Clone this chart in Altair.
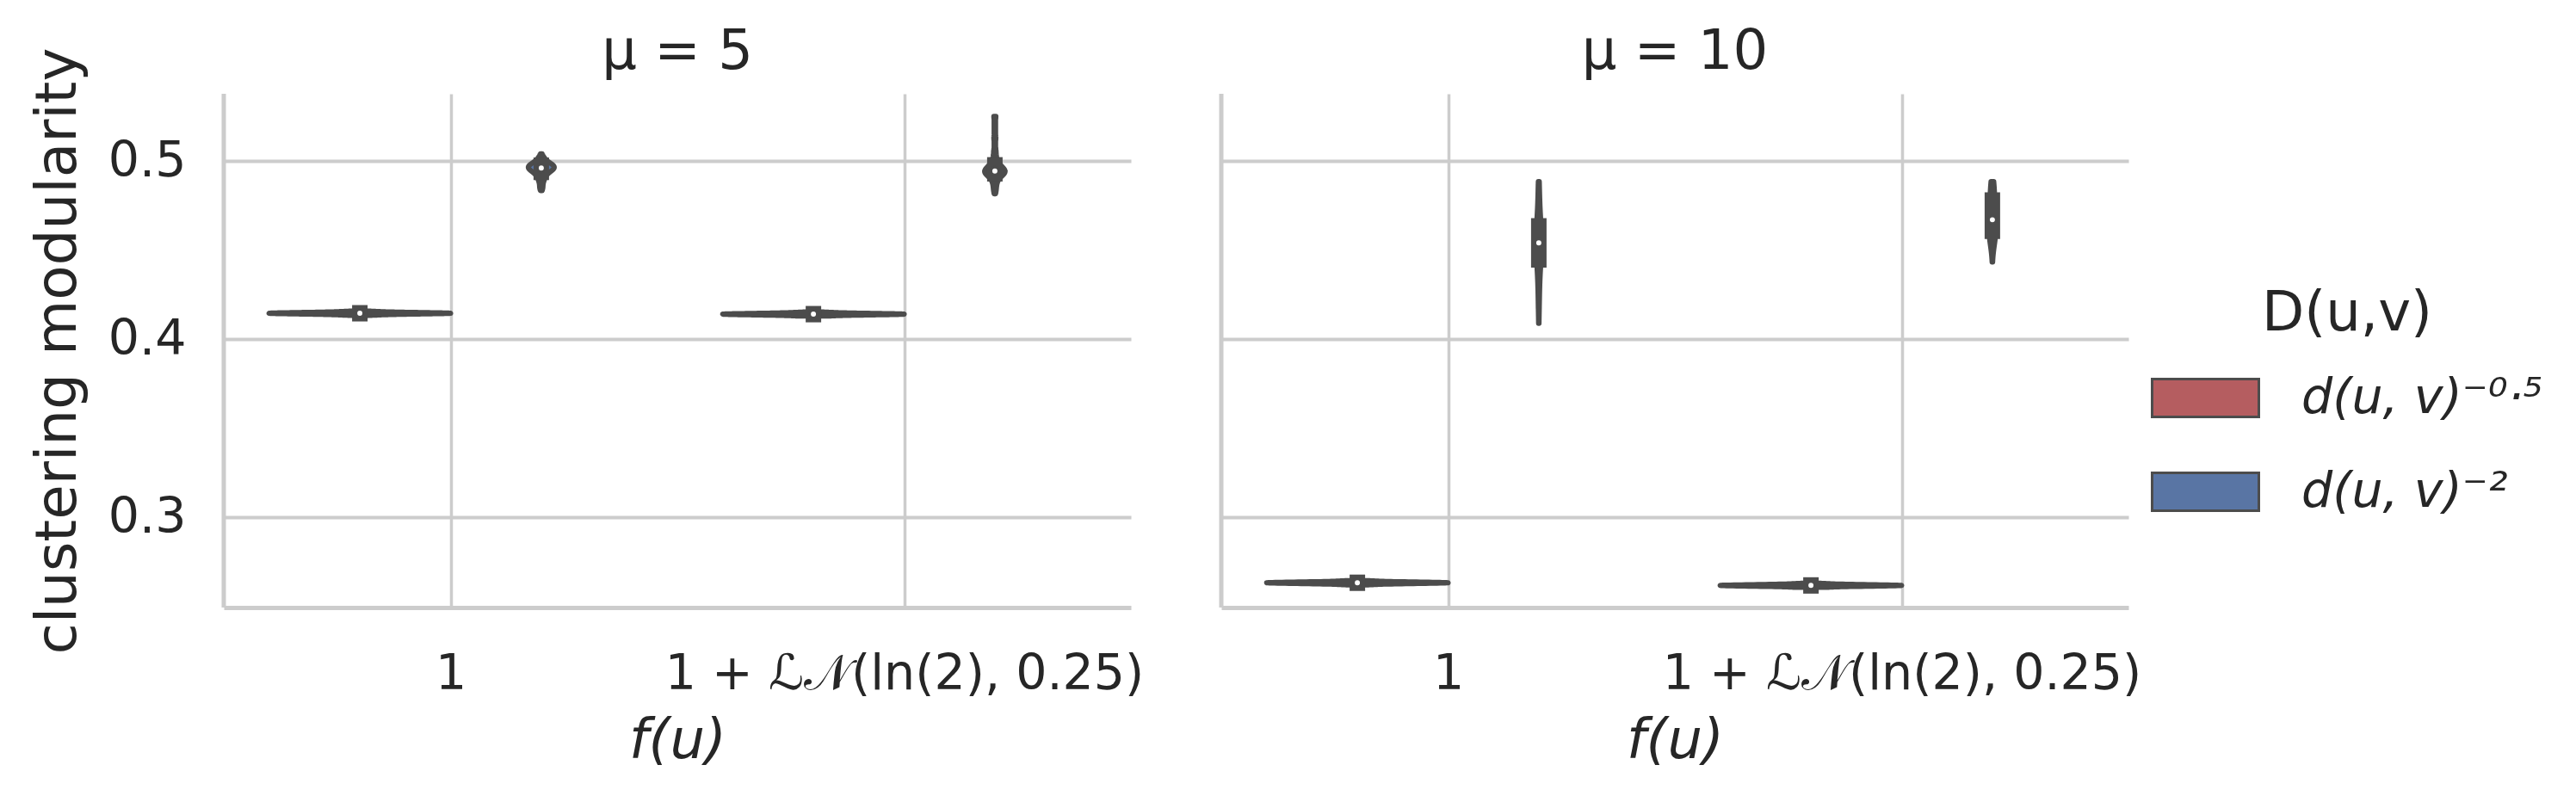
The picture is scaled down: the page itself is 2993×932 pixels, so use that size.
import json
import altair as alt
import pandas as pd

# ---------------- data ----------------
MU = ["μ = 5", "μ = 10"]
FU = ["1", "1 + ℒ𝒩(ln(2), 0.25)"]
DUV = ["d(u, v)⁻⁰·⁵", "d(u, v)⁻²"]

# clustering modularity samples per (mu, f(u), D(u,v))
mu5_f1_d05 = [0.4135, 0.4139, 0.4140, 0.4142, 0.4143, 0.4143, 0.4145, 0.4145,
              0.4145, 0.4147, 0.4147, 0.4148, 0.4150, 0.4151, 0.4155]
mu5_f1_d2 = [0.4850, 0.4885, 0.4905, 0.4920, 0.4932, 0.4940, 0.4947, 0.4952,
             0.4957, 0.4960, 0.4963, 0.4967, 0.4970, 0.4974, 0.4978, 0.4983,
             0.4990, 0.5002, 0.5020]
mu5_fln_d05 = [0.4130, 0.4134, 0.4135, 0.4137, 0.4138, 0.4138, 0.4140, 0.4140,
               0.4140, 0.4142, 0.4142, 0.4143, 0.4145, 0.4146, 0.4150]
mu5_fln_d2 = [0.4835, 0.4870, 0.4895, 0.4910, 0.4920, 0.4928, 0.4933, 0.4937,
              0.4940, 0.4941, 0.4943, 0.4947, 0.4952, 0.4960, 0.4968, 0.4978,
              0.4993, 0.5012, 0.5055, 0.5130, 0.5250]
mu10_f1_d05 = [0.2622, 0.2626, 0.2627, 0.2629, 0.2630, 0.2630, 0.2632, 0.2632,
               0.2632, 0.2634, 0.2634, 0.2635, 0.2637, 0.2638, 0.2642]
mu10_f1_d2 = [0.4170, 0.4270, 0.4330, 0.4390, 0.4425, 0.4445, 0.4465, 0.4485,
              0.4505, 0.4522, 0.4540, 0.4555, 0.4570, 0.4590, 0.4610, 0.4635,
              0.4650, 0.4680, 0.4730, 0.4790, 0.4870]
mu10_fln_d05 = [0.2607, 0.2611, 0.2612, 0.2614, 0.2615, 0.2615, 0.2617, 0.2617,
                0.2617, 0.2619, 0.2619, 0.2620, 0.2622, 0.2623, 0.2627]
mu10_fln_d2 = [0.4530, 0.4545, 0.4560, 0.4578, 0.4590, 0.4605, 0.4620, 0.4635,
               0.4650, 0.4660, 0.4670, 0.4680, 0.4695, 0.4710, 0.4730, 0.4780,
               0.4795, 0.4810, 0.4835, 0.4860, 0.4884]

groups = [
    (MU[0], FU[0], DUV[0], mu5_f1_d05),
    (MU[0], FU[0], DUV[1], mu5_f1_d2),
    (MU[0], FU[1], DUV[0], mu5_fln_d05),
    (MU[0], FU[1], DUV[1], mu5_fln_d2),
    (MU[1], FU[0], DUV[0], mu10_f1_d05),
    (MU[1], FU[0], DUV[1], mu10_f1_d2),
    (MU[1], FU[1], DUV[0], mu10_fln_d05),
    (MU[1], FU[1], DUV[1], mu10_fln_d2),
]
rows = []
for mu, fu, d, vals in groups:
    for v in vals:
        rows.append({"mu": mu, "fu": fu, "D": d, "value": v})
df = pd.DataFrame(rows)

# ---------------- style ----------------
FONT = "DejaVu Sans"
TXT = "#262626"
GRID = "#cccccc"
GRAY = "#4c4c4c"
COLORS = ["#b55d60", "#5975a4"]
W, H = 1054, 597
YDOM = [0.2493, 0.5377]

js = lambda s: json.dumps(s, ensure_ascii=False)
CENTER = (f"(datum.fu == {js(FU[0])} ? 0 : 1) + "
          f"(datum.D == {js(DUV[0])} ? -0.2 : 0.2)")
XLABELS = f"datum.value < 0.5 ? {js(FU[0])} : {js(FU[1])}"

xscale = alt.Scale(domain=[-0.5, 1.5], nice=False, zero=False)
yscale = alt.Scale(domain=YDOM, nice=False, zero=False)

xaxis = alt.Axis(values=[0, 1], labelExpr=XLABELS, grid=True, gridColor=GRID,
                 gridWidth=3.5, domainColor=GRID, domainWidth=5, ticks=False,
                 tickSize=0, labelFlush=False, labelLimit=2000, labelFont=FONT,
                 labelFontSize=57, labelColor=TXT, labelPadding=49,
                 title="f(u)", titleFont=FONT, titleFontSize=64,
                 titleFontStyle="italic", titleFontWeight="normal",
                 titleColor=TXT, titlePadding=18)

yaxis = alt.Axis(values=[0.3, 0.4, 0.5], format=".1f", grid=True,
                 gridColor=GRID, gridWidth=4, domain=False, ticks=False,
                 tickSize=0, labelFont=FONT, labelFontSize=57, labelColor=TXT,
                 labelPadding=44, title="clustering modularity",
                 titleFont=FONT, titleFontSize=66, titleFontWeight="normal",
                 titleColor=TXT, titlePadding=24, titleLimit=2000)

legend = alt.Legend(title="D(u,v)", orient="none", legendX=2239, legendY=224,
                    padding=0, titleFont=FONT, titleFontSize=64,
                    titleFontWeight="normal", titleColor=TXT,
                    titleAnchor="middle", titlePadding=2, titleLimit=2000,
                    labelFont=FONT, labelFontSize=57, labelFontStyle="italic",
                    labelColor=TXT, labelOffset=48, labelLimit=2000,
                    symbolType="M-1,-0.355L1,-0.355L1,0.355L-1,0.355Z",
                    symbolSize=15376, symbolStrokeColor=GRAY,
                    symbolStrokeWidth=3, symbolOpacity=1, rowPadding=17)

color = alt.Color("D:N", scale=alt.Scale(domain=DUV, range=COLORS),
                  legend=legend)

violin = (
    alt.Chart()
    .transform_density("value", groupby=["mu", "fu", "D"], steps=6000,
                       as_=["v", "density"])
    .transform_joinaggregate(gmax="max(density)", groupby=["mu", "fu", "D"])
    .transform_filter("datum.density > 0.07 * datum.gmax")
    .transform_joinaggregate(maxd="max(density)", groupby=["mu"])
    .transform_calculate(center=CENTER)
    .transform_calculate(hw="datum.density / datum.maxd * 0.2")
    .transform_calculate(xl="datum.center - datum.hw",
                         xr="datum.center + datum.hw")
    .mark_area(orient="horizontal", stroke=GRAY, strokeWidth=6,
               strokeJoin="round", opacity=1)
    .encode(
        y=alt.Y("v:Q", scale=yscale, axis=yaxis),
        x=alt.X("xl:Q", scale=xscale, axis=xaxis),
        x2="xr:Q",
        color=color,
        detail="fu:N",
    )
)

spine = (
    alt.Chart()
    .transform_aggregate(n="count()", groupby=["mu"])
    .mark_rule(color=GRID, strokeWidth=5)
    .encode(x=alt.X(datum=-0.5, scale=xscale, axis=xaxis))
)

stats = (
    alt.Chart()
    .transform_aggregate(lo="min(value)", hi="max(value)", q1="q1(value)",
                         q3="q3(value)", med="median(value)",
                         groupby=["mu", "fu", "D"])
    .transform_calculate(center=CENTER)
)
whisk = stats.mark_rule(color=GRAY, strokeWidth=6).encode(
    x=alt.X("center:Q", scale=xscale, axis=xaxis),
    y=alt.Y("lo:Q", scale=yscale, axis=yaxis), y2="hi:Q")
box = stats.mark_rule(color=GRAY, strokeWidth=18, strokeCap="square").encode(
    x=alt.X("center:Q", scale=xscale, axis=xaxis),
    y=alt.Y("q1:Q", scale=yscale, axis=yaxis), y2="q3:Q")
dot = stats.mark_point(shape="circle", filled=True, fill="white", stroke=GRAY,
                       strokeWidth=3, size=80, opacity=1).encode(
    x=alt.X("center:Q", scale=xscale, axis=xaxis),
    y=alt.Y("med:Q", scale=yscale, axis=yaxis))

chart = (
    alt.layer(spine, violin, whisk, box, dot, data=df)
    .properties(width=W, height=H)
    .facet(
        column=alt.Column(
            "mu:N", sort=MU,
            header=alt.Header(title=None, labelFont=FONT, labelFontSize=64,
                              labelColor=TXT, labelPadding=16,
                              labelLimit=2000),
        ),
        spacing=105,
        bounds="flush",
    )
    .properties(padding={"left": 26, "top": 21, "right": 5, "bottom": 5},
                background="white")
    .configure_view(stroke=None)
)

chart.save("out.html", embed_options={"renderer": "svg", "actions": False})
